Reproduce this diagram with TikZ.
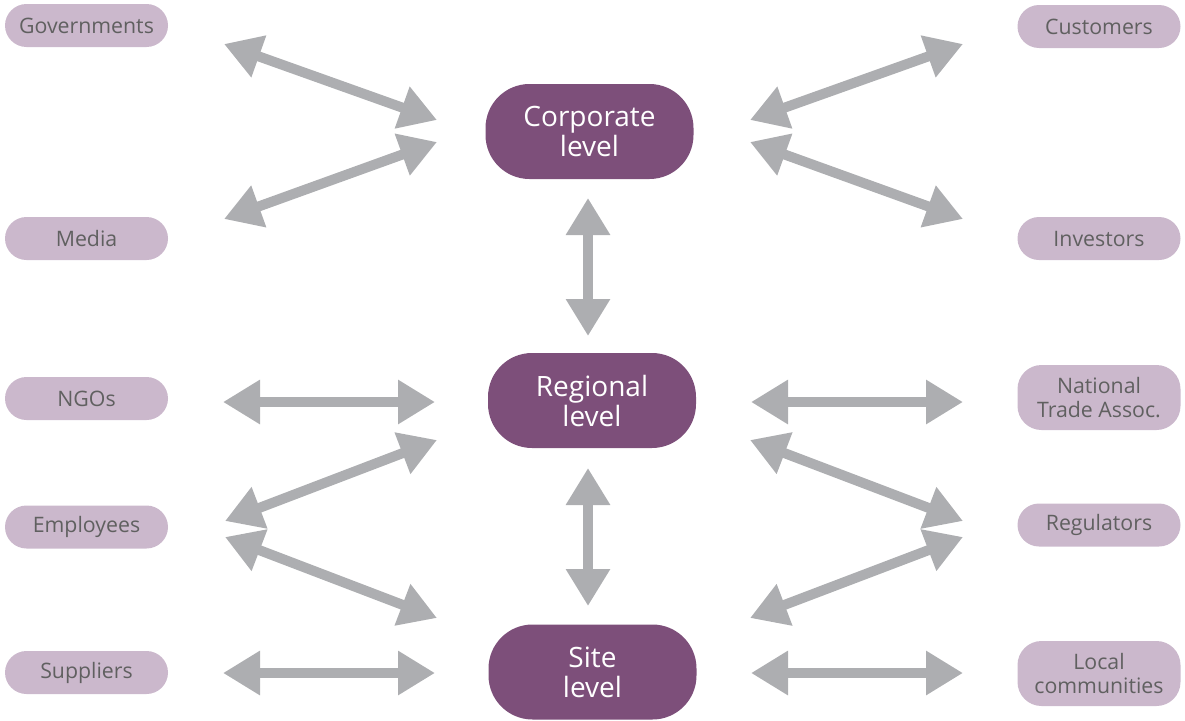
\documentclass[tikz,border=0pt]{standalone}
\usepackage{fontspec}
\setmainfont{Open Sans}
\usetikzlibrary{arrows.meta}
\definecolor{smallfill}{HTML}{CBB8CC}
\definecolor{bigfill}{HTML}{7D4F7A}
\definecolor{arrowgray}{HTML}{ADAEB1}
\definecolor{smalltext}{HTML}{606060}
\tikzset{
  party/.style={fill=smallfill, draw=none, rounded corners=21.5pt, minimum width=163pt, minimum height=43pt,
    text=smalltext, font=\fontsize{21.3}{24.5}\selectfont, align=center, inner sep=0pt},
  tallparty/.style={party, minimum height=65pt, rounded corners=24pt},
  level/.style={fill=bigfill, draw=none, rounded corners=44pt, minimum width=208pt, minimum height=95pt,
    text=white, font=\fontsize{28}{30}\selectfont, align=center, inner sep=0pt},
  link/.style={draw=arrowgray, line width=10pt,
    {Triangle[length=37pt,width=42pt]}-{Triangle[length=37pt,width=42pt]}}
}
\begin{document}
\begin{tikzpicture}[x=1pt,y=-1pt]
\useasboundingbox (0,0) rectangle (1185,720);
% central levels
\node[level] (corp) at (589.5,131.5) {Corporate\\level};
\node[level] (reg) at (592,400.5) {Regional\\level};
\node[level] (site) at (592.5,672) {Site\\level};
% left parties
\node[party] (gov) at (86.5,25.5) {Governments};
\node[party] (media) at (86.5,238.5) {Media};
\node[party] (ngo) at (86.5,398.5) {NGOs};
\node[party] (emp) at (86.5,527) {Employees};
\node[party] (sup) at (86.5,672.5) {Suppliers};
% right parties
\node[party] (cust) at (1099,26.5) {Customers};
\node[party] (inv) at (1099,238.5) {Investors};
\node[tallparty] (nta) at (1099,397.5) {National\\Trade Assoc.};
\node[party] (regu) at (1099,525) {Regulators};
\node[tallparty] (loc) at (1099,673.5) {Local\\communities};
% connector end points
\coordinate (govA) at (224,44);   \coordinate (govB) at (437,120);
\coordinate (medA) at (224,219);  \coordinate (medB) at (437,142);
\coordinate (custA) at (750,120); \coordinate (custB) at (963,44);
\coordinate (invA) at (750,142);  \coordinate (invB) at (963,219);
\coordinate (cr1) at (588,198);   \coordinate (cr2) at (588,336);
\coordinate (ngoA) at (223,402);  \coordinate (ngoB) at (435,402);
\coordinate (ntaA) at (751,402);  \coordinate (ntaB) at (963,402);
\coordinate (empA) at (225,521);  \coordinate (empB) at (437,440);
\coordinate (emsA) at (225,537);  \coordinate (emsB) at (437,618);
\coordinate (rguA) at (750,440);  \coordinate (rguB) at (963,521);
\coordinate (rgsA) at (750,618);  \coordinate (rgsB) at (963,537);
\coordinate (rs1) at (588,468);   \coordinate (rs2) at (588,606);
\coordinate (supA) at (223,673);  \coordinate (supB) at (435,673);
\coordinate (locA) at (751,673);  \coordinate (locB) at (963,673);
% connectors
\draw[link] (govA) -- (govB);
\draw[link] (medA) -- (medB);
\draw[link] (custA) -- (custB);
\draw[link] (invA) -- (invB);
\draw[link] (cr1) -- (cr2);
\draw[link] (ngoA) -- (ngoB);
\draw[link] (ntaA) -- (ntaB);
\draw[link] (empA) -- (empB);
\draw[link] (emsA) -- (emsB);
\draw[link] (rguA) -- (rguB);
\draw[link] (rgsA) -- (rgsB);
\draw[link] (rs1) -- (rs2);
\draw[link] (supA) -- (supB);
\draw[link] (locA) -- (locB);
\end{tikzpicture}
\end{document}
